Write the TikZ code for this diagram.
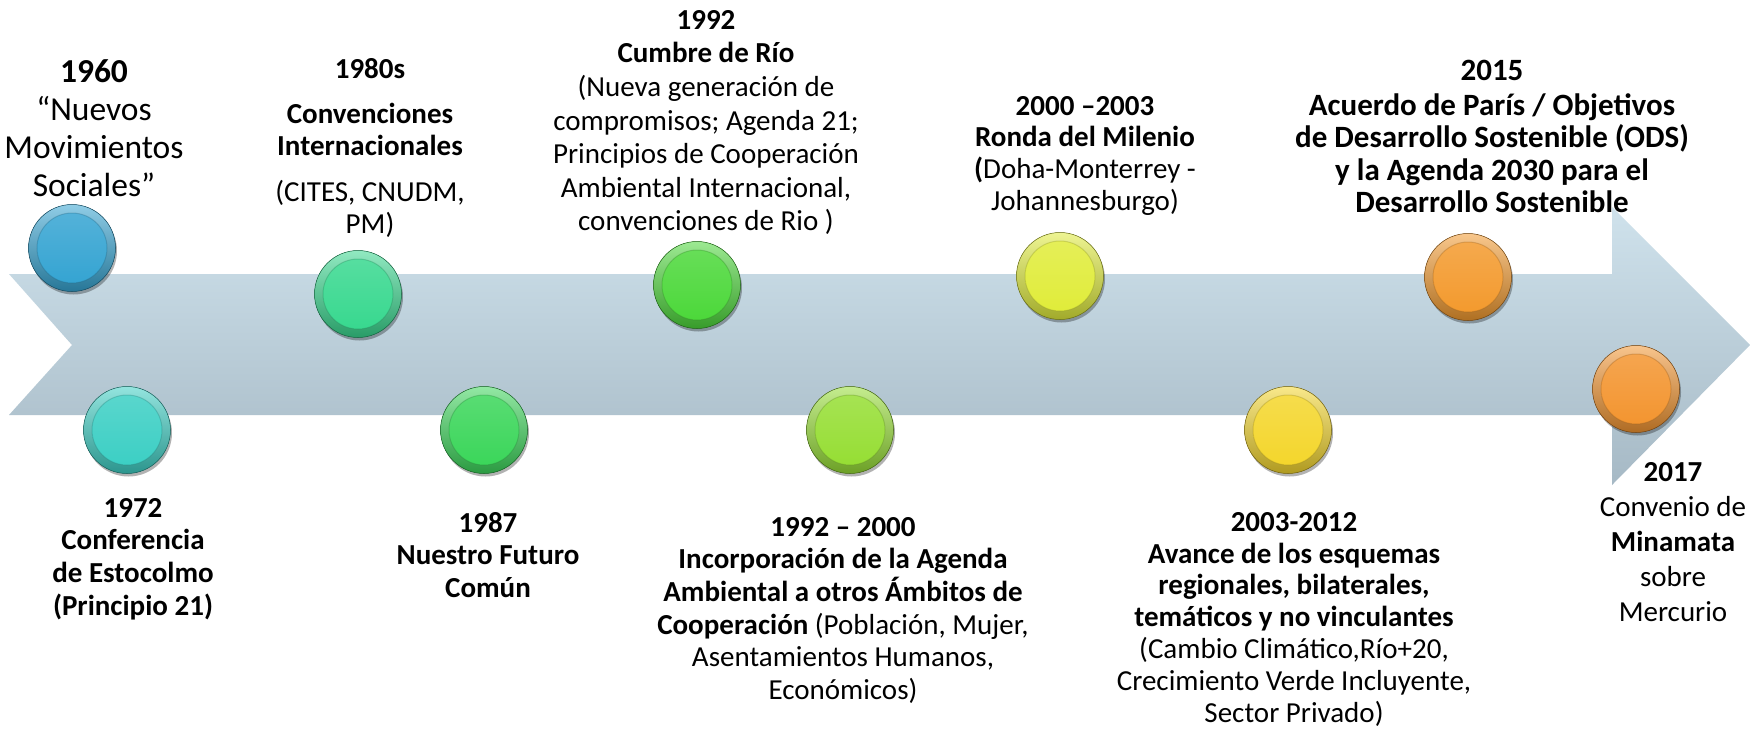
\documentclass[tikz,border=0pt]{standalone}
\usepackage{fontspec}
\setmainfont{Carlito}
\usetikzlibrary{shadows}
\definecolor{arrowtop}{HTML}{CFE2EC}
\definecolor{arrowbot}{HTML}{A6B9C5}
\definecolor{kA}{HTML}{35A4D2}
\definecolor{kB}{HTML}{3CCFC4}
\definecolor{kC}{HTML}{38D88F}
\definecolor{kD}{HTML}{3BD65A}
\definecolor{kE}{HTML}{4CD83A}
\definecolor{kF}{HTML}{96DE34}
\definecolor{kG}{HTML}{E0EC3A}
\definecolor{kH}{HTML}{F4D62C}
\definecolor{kI}{HTML}{F39A2E}
\definecolor{kJ}{HTML}{F39530}
\tikzset{
  btn/.style={circle, inner sep=0pt, minimum size=87pt, fill=#1!80!black,
    draw=#1!45!black, line width=0.5pt,
    drop shadow={shadow xshift=1.5pt, shadow yshift=-3pt, opacity=0.3, fill=black},
    path picture={
      \shade[top color=#1!55!white, bottom color=#1!72!black]
        (path picture bounding box.center) circle (44pt);
      \shade[top color=#1!85!white, bottom color=#1]
        (path picture bounding box.center) circle (35pt);
      \draw[#1!60!black, opacity=0.3, line width=1pt]
        (path picture bounding box.center) circle (35pt);
    }},
  lbl/.style={align=center, inner sep=0pt, anchor=north, text=black},
}
\begin{document}
\begin{tikzpicture}[x=1pt,y=-1pt]
\useasboundingbox[fill=white] (0,0) rectangle (1763,728);
% timeline arrow
\shade[top color=arrowtop, bottom color=arrowbot]
  (9,274) -- (1612,274) -- (1612,207) -- (1750,345) -- (1612,485)
  -- (1612,415) -- (9,415) -- (72,345) -- cycle;
% buttons
\node[btn=kA] (c1960) at (72,248) {};
\node[btn=kB] (c1972) at (127,430) {};
\node[btn=kC] (c1980) at (358,294) {};
\node[btn=kD] (c1987) at (484,430) {};
\node[btn=kE] (c1992) at (697,285) {};
\node[btn=kF] (c1992b) at (850,430) {};
\node[btn=kG] (c2000) at (1060,276) {};
\node[btn=kH] (c2003) at (1288,430) {};
\node[btn=kI] (c2015) at (1468,277) {};
\node[btn=kJ] (c2017) at (1636,389) {};
% labels above
\node[lbl, font=\fontsize{33.5}{38}\selectfont] (t1960) at (94,59)
  {\textbf{1960}\\“Nuevos\\Movimientos\\Sociales”};
\node[lbl, font=\fontsize{29}{32}\selectfont] (t1980) at (370,58)
  {\textbf{1980s}\\[13pt]\textbf{Convenciones}\\\textbf{Internacionales}\\[14pt](CITES, CNUDM,\\PM)};
\node[lbl, font=\fontsize{29}{33.6}\selectfont] (t1992) at (706,10)
  {\textbf{1992}\\\textbf{Cumbre de Río}\\(Nueva generación de\\compromisos; Agenda 21;\\Principios de Cooperación\\Ambiental Internacional,\\convenciones de Rio )};
\node[lbl, font=\fontsize{29}{31.7}\selectfont] (t2000) at (1085,96)
  {\textbf{2000 –2003}\\\textbf{Ronda del Milenio}\\\textbf{(}Doha-Monterrey -\\Johannesburgo)};
\node[lbl, font=\fontsize{31}{32.5}\selectfont\bfseries] (t2015) at (1492,60)
  {2015\\[2pt]Acuerdo de París / Objetivos\\de Desarrollo Sostenible (ODS)\\y la Agenda 2030 para el\\Desarrollo Sostenible};
% labels below
\node[lbl, font=\fontsize{29}{32.6}\selectfont\bfseries] (t1972) at (133,498)
  {1972\\Conferencia\\de Estocolmo\\(Principio 21)};
\node[lbl, font=\fontsize{29}{32.5}\selectfont\bfseries] (t1987) at (488,512)
  {1987\\Nuestro Futuro\\Común};
\node[lbl, font=\fontsize{29}{32.6}\selectfont] (t1992b) at (843,517)
  {\textbf{1992 – 2000}\\\textbf{Incorporación de la Agenda}\\\textbf{Ambiental a otros Ámbitos de}\\\textbf{Cooperación} (Población, Mujer,\\Asentamientos Humanos,\\Económicos)};
\node[lbl, font=\fontsize{29}{31.8}\selectfont] (t2003) at (1294,512)
  {\textbf{2003-2012}\\\textbf{Avance de los esquemas}\\\textbf{regionales, bilaterales,}\\\textbf{temáticos y no vinculantes}\\(Cambio Climático,Río+20,\\Crecimiento Verde Incluyente,\\Sector Privado)};
\node[lbl, font=\fontsize{29}{35}\selectfont] (t2017) at (1673,462)
  {\textbf{2017}\\Convenio de\\\textbf{Minamata}\\sobre\\Mercurio};
\end{tikzpicture}
\end{document}
